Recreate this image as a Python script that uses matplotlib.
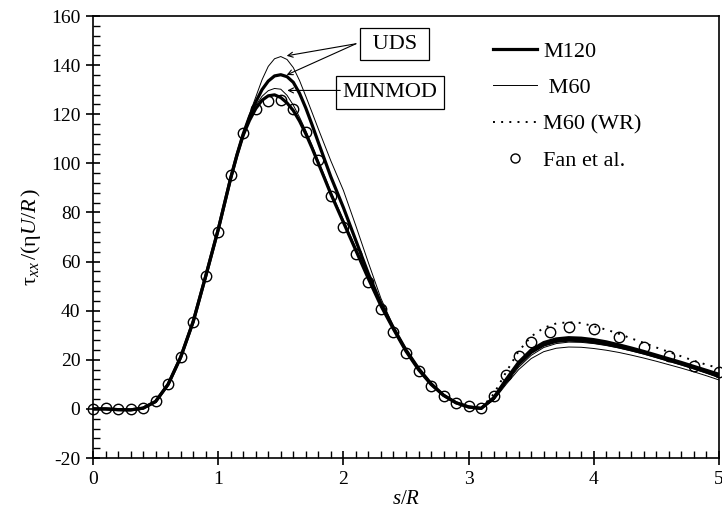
import numpy as np
import matplotlib
matplotlib.use("Agg")
import matplotlib.pyplot as plt
from matplotlib.lines import Line2D
from matplotlib.ticker import MultipleLocator

plt.rcParams['font.family'] = ['Liberation Serif', 'DejaVu Serif']
plt.rcParams['mathtext.fontset'] = 'custom'
plt.rcParams['mathtext.rm'] = 'Liberation Serif'
plt.rcParams['mathtext.it'] = 'Liberation Serif:italic'
plt.rcParams['axes.unicode_minus'] = False

# arc length positions of the computed profiles (finer around the peak)
s_grid = [0.0, 0.1, 0.2, 0.3, 0.4, 0.5, 0.6, 0.7, 0.8, 0.9, 1.0, 1.1,
          1.15, 1.2, 1.25, 1.3, 1.35, 1.4, 1.45, 1.5, 1.55, 1.6, 1.65, 1.7,
          1.75, 1.8, 1.85,
          1.9, 2.0, 2.1, 2.2, 2.3, 2.4, 2.5, 2.6, 2.7, 2.8, 2.9,
          3.0, 3.1, 3.2, 3.3, 3.4, 3.5, 3.6, 3.7, 3.8, 3.9,
          4.0, 4.1, 4.2, 4.3, 4.4, 4.5, 4.6, 4.7, 4.8, 4.9, 5.0]

m120_uds = [0.0, 0.0, -0.3, -0.4, 0.3, 3.0, 10.0, 21.0, 35.5, 54.0, 73.0, 94.0,
            103.5, 112.0, 119.0, 125.0, 130.0, 133.5, 135.6, 136.1, 135.3, 133.0, 128.5, 122.5,
            115.7, 108.5, 101.5,
            94.5, 82.0, 68.5, 55.0, 43.0, 33.0, 24.0, 16.5, 10.3, 5.6, 2.5,
            0.8, 0.2, 4.5, 12.0, 19.0, 24.0, 27.0, 28.5, 29.0, 28.8,
            28.2, 27.3, 26.1, 24.8, 23.4, 21.9, 20.4, 18.9, 17.3, 15.7, 14.1]

m120_minmod = [0.0, 0.0, -0.3, -0.4, 0.3, 3.0, 10.0, 21.0, 35.5, 54.0, 73.0, 94.0,
               103.3, 111.5, 117.5, 122.3, 125.7, 127.5, 127.9, 126.8, 124.6, 121.5, 117.2, 112.0,
               106.2, 100.0, 93.8,
               87.5, 76.0, 64.5, 53.0, 42.0, 32.5, 23.5, 16.0, 10.0, 5.5, 2.5,
               0.8, 0.2, 4.3, 11.5, 18.2, 23.0, 26.0, 27.5, 28.0, 27.8,
               27.2, 26.4, 25.3, 24.1, 22.8, 21.3, 19.8, 18.3, 16.7, 15.0, 13.3]

m60_uds = [0.0, 0.0, -0.3, -0.4, 0.3, 3.0, 10.0, 21.0, 35.5, 54.0, 73.0, 94.0,
           103.8, 112.5, 120.0, 127.0, 134.0, 139.5, 142.6, 143.5, 142.3, 139.0, 133.7, 127.3,
           120.7, 114.0, 107.5,
           101.0, 89.0, 74.5, 59.5, 45.0, 33.5, 24.5, 16.8, 10.5, 5.7, 2.6,
           0.9, 0.2, 3.8, 10.5, 17.0, 21.8, 25.0, 26.6, 27.2, 27.1,
           26.6, 25.8, 24.8, 23.6, 22.3, 20.9, 19.4, 17.9, 16.3, 14.6, 12.7]

m60_minmod = [0.0, 0.0, -0.3, -0.4, 0.3, 3.0, 10.0, 21.0, 35.5, 54.0, 73.0, 94.0,
              103.5, 112.0, 118.5, 123.5, 127.3, 129.6, 130.5, 130.2, 127.7, 123.7, 118.8, 113.3,
              107.3, 101.0, 94.8,
              88.5, 77.0, 65.5, 54.0, 43.0, 33.0, 24.0, 16.3, 10.2, 5.5, 2.5,
              0.8, 0.2, 3.5, 10.0, 16.0, 20.5, 23.3, 24.7, 25.2, 25.1,
              24.6, 23.9, 23.0, 21.9, 20.7, 19.4, 18.0, 16.6, 15.1, 13.5, 11.8]

# M60 with wall refinement, downstream part
s_wr = [3.1, 3.2, 3.3, 3.4, 3.5, 3.6, 3.7, 3.8, 3.9, 4.0,
        4.1, 4.2, 4.3, 4.4, 4.5, 4.6, 4.7, 4.8, 4.9, 5.0]
m60_wr = [0.3, 6.0, 15.0, 23.5, 29.5, 33.0, 34.8, 35.3, 35.0, 33.6,
          32.3, 30.6, 28.7, 26.9, 25.0, 23.2, 21.4, 19.6, 18.0, 16.6]

# Fan et al. reference solution
s_fan = [0.0, 0.1, 0.2, 0.3, 0.4, 0.5, 0.6, 0.7, 0.8, 0.9,
         1.0, 1.1, 1.2, 1.3, 1.4, 1.5, 1.6, 1.7, 1.8, 1.9,
         2.0, 2.1, 2.2, 2.3, 2.4, 2.5, 2.6, 2.7, 2.8, 2.9,
         3.0, 3.1, 3.2, 3.3, 3.4, 3.5, 3.65, 3.8, 4.0, 4.2,
         4.4, 4.6, 4.8, 5.0]
tau_fan = [0.0, 0.3, 0.1, -0.1, 0.5, 3.3, 10.2, 21.0, 35.2, 54.2,
           72.1, 95.2, 112.3, 122.1, 125.3, 125.6, 122.1, 112.7, 101.4, 86.9,
           74.0, 63.0, 51.7, 40.6, 31.5, 22.9, 15.5, 9.5, 5.4, 2.6,
           1.2, 0.3, 5.3, 14.0, 21.6, 27.4, 31.3, 33.3, 32.5, 29.4,
           25.4, 21.6, 17.6, 14.9]

fig = plt.figure(figsize=(7.22, 5.17), dpi=100)
ax = fig.add_axes([0.1288, 0.1141, 0.8670, 0.8549])

thick = 2.3
thin = 0.7
dotted = (0, (1.0, 3.2))
ax.plot(s_grid, m60_uds, color='black', lw=thin)
ax.plot(s_grid, m60_minmod, color='black', lw=thin)
ax.plot(s_grid, m120_uds, color='black', lw=thick)
ax.plot(s_grid, m120_minmod, color='black', lw=thick)
ax.plot(s_wr, m60_wr, color='black', lw=1.4, linestyle=dotted)
ax.plot(s_fan, tau_fan, linestyle='none', marker='o', markersize=7.5,
        markerfacecolor='none', markeredgecolor='black', markeredgewidth=1.0,
        clip_on=False, zorder=5)

ax.set_xlim(0, 5)
ax.set_ylim(-20, 160)
ax.xaxis.set_major_locator(MultipleLocator(1))
ax.xaxis.set_minor_locator(MultipleLocator(0.1))
ax.yaxis.set_major_locator(MultipleLocator(20))
ax.yaxis.set_minor_locator(MultipleLocator(4))
ax.tick_params(which='major', direction='inout', length=10, width=1.2,
               labelsize=14, top=False, right=False)
ax.tick_params(which='minor', direction='in', length=5, width=1.0,
               top=False, right=False)
ax.tick_params(axis='x', which='major', pad=4)
ax.tick_params(axis='y', which='major', pad=4)
for sp in ax.spines.values():
    sp.set_linewidth(1.2)

ax.set_xlabel('$s/R$', fontsize=15, labelpad=2)
ax.set_ylabel(r'$\mathrm{\tau}_{xx}\,/(\mathrm{\eta}U/R\,)$', fontsize=16, labelpad=6)

# scheme labels with pointers to the peaks
box = dict(boxstyle='square,pad=0.3', fc='white', ec='black', lw=0.9)
ax.text(2.408, 148.5, ' UDS ', fontsize=16, ha='center', va='center', bbox=box)
ax.text(2.372, 128.8, 'MINMOD', fontsize=16, ha='center', va='center', bbox=box)
arrow = dict(arrowstyle='->', color='black', lw=0.8, shrinkA=0, shrinkB=0,
             mutation_scale=9)
ax.annotate('', xy=(1.547, 143.8), xytext=(2.10, 148.7), arrowprops=arrow)
ax.annotate('', xy=(1.547, 136.0), xytext=(2.10, 148.7), arrowprops=arrow)
ax.annotate('', xy=(1.552, 129.7), xytext=(1.975, 129.7), arrowprops=arrow)

handles = [
    Line2D([], [], color='black', lw=thick),
    Line2D([], [], color='black', lw=thin),
    Line2D([], [], color='black', lw=1.4, linestyle=dotted),
    Line2D([], [], linestyle='none', marker='o', markersize=6.5,
           markerfacecolor='none', markeredgecolor='black', markeredgewidth=1.0),
]
labels = ['M120', ' M60', 'M60 (WR)', 'Fan et al.']
ax.legend(handles, labels, loc='upper left', bbox_to_anchor=(0.639, 0.943),
          frameon=False, fontsize=16, handlelength=2.0, handletextpad=0.25,
          labelspacing=0.71, borderpad=0, borderaxespad=0)

fig.savefig('out.png', dpi=100)
